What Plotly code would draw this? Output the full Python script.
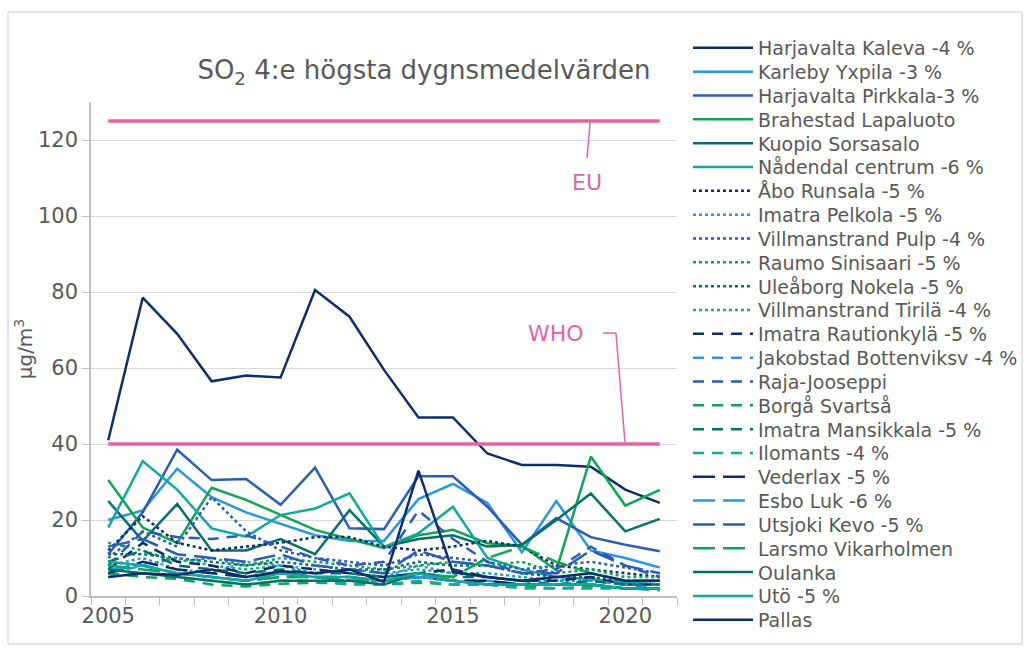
import plotly.graph_objects as go

# ---------------- data ----------------
years = [str(y) for y in range(2005, 2022)]
tick_label_step = 5  # labels shown: 2005, 2010, 2015, 2020

series_names = [
    "Harjavalta Kaleva -4 %", "Karleby Yxpila -3 %", "Harjavalta Pirkkala-3 %",
    "Brahestad Lapaluoto", "Kuopio Sorsasalo", "Nådendal centrum -6 %",
    "Åbo Runsala -5 %", "Imatra Pelkola -5 %", "Villmanstrand Pulp -4 %",
    "Raumo Sinisaari -5 %", "Uleåborg Nokela -5 %", "Villmanstrand Tirilä -4 %",
    "Imatra Rautionkylä -5 %", "Jakobstad Bottenviksv -4 %", "Raja-Jooseppi",
    "Borgå Svartså", "Imatra Mansikkala -5 %", "Ilomants -4 %",
    "Vederlax -5 %", "Esbo Luk -6 %", "Utsjoki Kevo -5 %",
    "Larsmo Vikarholmen", "Oulanka", "Utö -5 %", "Pallas",
]

harjavalta_kaleva = [41, 78.5, 69, 56.5, 58, 57.5, 80.5, 73.5, 59.5, 47, 47, 37.5, 34.5, 34.5, 34, 28, 24.5]
karleby_yxpila = [20, 22.5, 33.5, 26, 22, 19, 16, 14.5, 14.5, 25.5, 29.5, 24.5, 11.5, 25, 12, 10, 7.5]
harjavalta_pirkkala = [11, 22, 38.5, 30.5, 30.8, 24, 33.8, 17.8, 17.6, 31.5, 31.5, 23.5, 13.5, 20.5, 15.5, 13.5, 11.8]
brahestad_lapaluoto = [30.5, 18, 14, 28.5, 25.3, 21.3, 17.4, 15, 12.6, 16, 17.4, 13.9, 13.2, 6.8, 36.7, 23.8, 27.9]
kuopio_sorsasalo = [25, 14.5, 24.2, 12, 12, 15, 11, 22.6, 13, 15, 16, 13, 13.4, 20, 27, 17, 20.3]
nadendal_centrum = [18, 35.5, 28, 17.8, 15.6, 21.3, 23, 27, 12.9, 16.5, 23.5, 10, 7, 5, 4.5, 3.5, 4]
abo_runsala = [12, 21, 14, 12, 13, 14, 15.5, 15.5, 13, 12, 13, 14.5, 13, 8, 7, 6, 5]
imatra_pelkola = [8, 10, 7, 6, 9, 8, 7, 6, 5, 8, 6, 5, 4, 4, 5, 3, 3]
villmanstrand_pulp = [10, 17, 13, 26, 17, 12, 10, 9, 8, 11, 10, 9, 7, 8, 9, 7.5, 6]
raumo_sinisaari = [14, 12, 9, 10, 8, 10, 9, 8, 7, 8, 9, 8, 9, 6, 7, 5, 5]
uleaborg_nokela = [11, 11, 10, 9, 8, 9, 8, 7, 7, 9, 8, 8, 6, 5, 5, 4, 4]
villmanstrand_tirila = [9, 8, 10, 8, 7, 8, 6, 7, 6, 7, 6, 6, 5, 4, 4, 3, 3]
imatra_rautionkyla = [7, 14, 9, 8, 6, 8, 7, 6, 5, 6, 7, 5, 4, 4, 5, 3, 3]
jakobstad_bottenviksv = [6, 8, 6, 5, 4, 6, 5, 4, 4, 5, 4, 4, 3, 3, 4, 3, 2]
raja_jooseppi = [8, 17, 15.5, 15, 16, 13, 10, 8, 9, 22.5, 15, 9, 6, 7, 13, 8, 5]
borga_svartsa = [6, 5, 4.5, 3, 2.5, 3.2, 3.5, 3.2, 3, 3.5, 3, 3, 2.5, 2, 2.5, 2, 2]
imatra_mansikkala = [9, 12, 8, 7, 6, 7, 6, 6, 5, 6, 5, 5, 4, 3, 4, 3, 3]
ilomants = [5, 6, 5, 4, 3, 4, 4, 3, 3, 4, 3, 3, 2, 2, 2, 2, 1.5]
vederlax = [6, 9, 7, 6, 5, 6, 5, 5, 4, 5, 4, 4, 3, 3, 3, 2, 2]
esbo_luk = [7, 8, 6, 5, 4, 5, 5, 4, 4, 5, 4, 3, 3, 3, 3, 2, 2]
utsjoki_kevo = [13, 15, 11, 10, 9, 11, 8, 7, 6, 12, 9, 8, 6, 6, 12, 8, 6]
larsmo_vikarholmen = [8, 7, 6, 5, 4, 5, 5, 4, 4, 6, 5, 10, 13, 9, 6, 4, 4]
oulanka = [7, 6, 5, 4, 3, 4, 4, 4, 3, 6, 4, 3, 3, 3, 3, 2, 2]
uto = [9, 8, 6, 5, 4, 6, 5, 5, 4, 6, 4, 3, 3, 3, 3, 2, 2]
pallas = [5, 6, 5.5, 7, 5, 6.5, 6, 7, 3.7, 33, 6.3, 5, 4, 5, 6, 4, 4]

eu_limit = 125
who_limit = 40

series_values = [
    harjavalta_kaleva, karleby_yxpila, harjavalta_pirkkala, brahestad_lapaluoto,
    kuopio_sorsasalo, nadendal_centrum, abo_runsala, imatra_pelkola,
    villmanstrand_pulp, raumo_sinisaari, uleaborg_nokela, villmanstrand_tirila,
    imatra_rautionkyla, jakobstad_bottenviksv, raja_jooseppi, borga_svartsa,
    imatra_mansikkala, ilomants, vederlax, esbo_luk, utsjoki_kevo,
    larsmo_vikarholmen, oulanka, uto, pallas,
]

# ---------------- styles ----------------
NAVY, LIGHT, MED, GREEN, DTEAL, TEAL = "#0f2d69", "#2a97e6", "#2b5cb8", "#10a554", "#06706b", "#12a89d"
PINK = "#e264a6"
GREY_TXT = "#595959"
FONT = "DejaVu Sans"

six = [NAVY, LIGHT, MED, GREEN, DTEAL, TEAL]
colors = six + six + six + [NAVY, LIGHT, MED, GREEN] + [DTEAL, TEAL, NAVY]
DOT, DASH, LDASH = "dot", "11px,8px", "22px,8px"
dashes = ["solid"] * 6 + [DOT] * 6 + [DASH] * 6 + [LDASH] * 4 + ["solid"] * 3

fig = go.Figure()

W, H = 1030, 651
leg_x_px = 688
leg_y0, leg_dy = 48, 23.83

for i, (name, vals) in enumerate(zip(series_names, series_values)):
    lid = "legend" if i == 0 else f"legend{i + 1}"
    fig.add_trace(go.Scatter(x=years, y=vals, mode="lines", name=name,
                             line=dict(color=colors[i], width=2.5, dash=dashes[i]),
                             legend=lid))
    fig.update_layout({lid: dict(
        x=leg_x_px / W, y=1 - (leg_y0 + leg_dy * i) / H,
        xref="container", yref="container",
        xanchor="left", yanchor="middle",
        bgcolor="rgba(0,0,0,0)", borderwidth=0,
        itemwidth=60,
        font=dict(family=FONT, size=19, color=GREY_TXT),
    )})

# limit lines (EU, WHO)
for lim in (eu_limit, who_limit):
    fig.add_trace(go.Scatter(x=[years[0], years[-1]], y=[lim, lim], mode="lines",
                             line=dict(color=PINK, width=3.5), showlegend=False,
                             hoverinfo="skip"))

# annotations (EU / WHO)
fig.add_annotation(x=13.9, y=108.7, xref="x", yref="y", text="EU", showarrow=False,
                   font=dict(family=FONT, size=22, color=PINK))
fig.add_annotation(x=13.0, y=69.2, xref="x", yref="y", text="WHO", showarrow=False,
                   font=dict(family=FONT, size=22, color=PINK))
# leader lines
fig.add_shape(type="line", xref="x", yref="y", x0=13.98, y0=124.7, x1=13.89, y1=115.3,
              line=dict(color=PINK, width=1.5))
fig.add_shape(type="line", xref="x", yref="y", x0=14.35, y0=69.2, x1=14.73, y1=69.2,
              line=dict(color=PINK, width=1.5))
fig.add_shape(type="line", xref="x", yref="y", x0=14.73, y0=69.2, x1=14.99, y1=40.5,
              line=dict(color=PINK, width=1.5))

# outer border
fig.add_shape(type="rect", xref="paper", yref="paper",
              x0=(8 - 91) / 586, x1=(1022 - 91) / 586,
              y0=(596 - 644) / 494, y1=(596 - 12) / 494,
              line=dict(color="#c8c8c8", width=1))

fig.update_layout(
    width=W, height=H,
    margin=dict(l=91, r=W - 677, t=102, b=H - 596, autoexpand=False),
    paper_bgcolor="white", plot_bgcolor="white",
    title=dict(text="SO<sub>2</sub> 4:e högsta dygnsmedelvärden",
               x=424 / W, xanchor="center", y=1 - 70 / H, yanchor="middle",
               font=dict(family=FONT, size=26, color=GREY_TXT)),
    font=dict(family=FONT, color=GREY_TXT),
    showlegend=True,
    xaxis=dict(type="category", categoryorder="array", categoryarray=years,
               range=[-0.5, 16.5], tickmode="linear", tick0=0, dtick=1,
               ticklabelstep=tick_label_step, tickson="boundaries", tickangle=0,
               ticks="outside", ticklen=7, tickcolor="#bfbfbf",
               showline=True, linecolor="#bfbfbf", linewidth=1.5,
               showgrid=False, tickfont=dict(family=FONT, size=21, color=GREY_TXT)),
    yaxis=dict(range=[0, 130], tickvals=[0, 20, 40, 60, 80, 100, 120],
               ticks="outside", ticklen=7, tickcolor="#bfbfbf",
               showline=True, linecolor="#bfbfbf", linewidth=1.5,
               gridcolor="#d9d9d9", gridwidth=1, zeroline=False,
               tickfont=dict(family=FONT, size=21, color=GREY_TXT),
               title=dict(text="µg/m<sup>3</sup>", standoff=0,
                          font=dict(family=FONT, size=20, color=GREY_TXT))),
)

fig.write_html("out.html", config={"displayModeBar": False},
               post_script="document.body.style.margin='0';document.body.style.overflow='hidden';")
